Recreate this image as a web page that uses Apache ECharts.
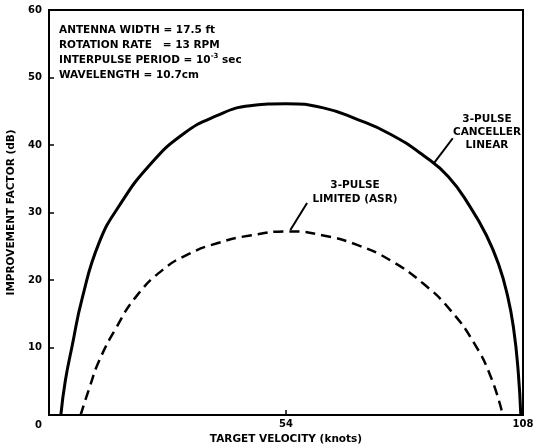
<!DOCTYPE html>
<html><head><meta charset="utf-8">
<script src="https://cdn.jsdelivr.net/npm/echarts@6/dist/echarts.min.js"></script>
<style>html,body{margin:0;padding:0;background:#fff}#c{width:534px;height:444px}</style>
</head><body><div id="c"></div>
<script>
const xTicks = [0, 54, 108];
const yTicks = [0, 10, 20, 30, 40, 50, 60];
const linearX = [2.7, 3.7, 5.2, 7.6, 11.4, 16.0, 22.9, 30.5, 38.1, 45.8, 54.0, 62.5, 70.2, 77.8, 85.4, 91.0, 96.0, 99.6, 102.4, 104.5, 105.9, 106.9, 107.5];
const linearY = [0, 5.0, 10.0, 17.4, 25.5, 31.0, 37.0, 41.6, 44.3, 45.8, 46.1, 45.5, 43.8, 41.6, 38.4, 35.3, 30.8, 26.7, 22.4, 17.6, 12.6, 6.5, 0];
const limitedX = [7.2, 9.2, 11.4, 15.3, 19.8, 25.9, 32.0, 38.1, 45.8, 54.9, 62.5, 70.2, 77.8, 85.4, 91.5, 96.9, 100.7, 103.4];
const limitedY = [0, 4.0, 8.0, 12.9, 17.5, 21.5, 23.9, 25.4, 26.6, 27.2, 26.6, 25.2, 22.9, 19.4, 15.5, 10.6, 5.6, 0];
const paramLines = ['ANTENNA WIDTH = 17.5 ft', 'ROTATION RATE   = 13 RPM', 'INTERPULSE PERIOD = 10{sup|-3} sec', 'WAVELENGTH = 10.7cm'];
const linearLabel = '3-PULSE\nCANCELLER\nLINEAR';
const limitedLabel = '3-PULSE\nLIMITED (ASR)';

const F = '"DejaVu Sans", sans-serif';
const zip = (a, b) => a.map((v, i) => [v, b[i]]);
const chart = echarts.init(document.getElementById('c'));
chart.setOption({
  backgroundColor: '#fff',
  animation: false,
  grid: { left: 49, right: 11, top: 10, bottom: 29, show: true, borderColor: '#000', borderWidth: 2,
    containLabel: false, outerBoundsMode: 'none' },
  xAxis: {
    type: 'value', min: xTicks[0], max: xTicks[2], interval: xTicks[1] - xTicks[0],
    name: 'TARGET VELOCITY (knots)', nameLocation: 'middle', nameGap: 12,
    nameTextStyle: { fontFamily: F, fontWeight: 'bold', fontSize: 10.5, color: '#000' },
    axisLine: { lineStyle: { color: '#000', width: 2 } },
    axisTick: { inside: true, length: 5, lineStyle: { color: '#000', width: 1.5 } },
    axisLabel: { showMinLabel: false, margin: 4, fontFamily: F, fontWeight: 'bold', fontSize: 10, color: '#000' },
    splitLine: { show: false }
  },
  yAxis: {
    type: 'value', min: yTicks[0], max: yTicks[yTicks.length - 1], interval: 10,
    name: 'IMPROVEMENT FACTOR (dB)', nameLocation: 'middle', nameGap: 25, nameRotate: 90,
    nameTextStyle: { fontFamily: F, fontWeight: 'bold', fontSize: 10.5, color: '#000' },
    axisLine: { show: true, lineStyle: { color: '#000', width: 2 } },
    axisTick: { show: true, inside: true, length: 5, lineStyle: { color: '#000', width: 1.5 } },
    axisLabel: { margin: 7, fontFamily: F, fontWeight: 'bold', fontSize: 10, color: '#000',
      formatter: v => v === 0 ? '{z|0}' : String(v),
      rich: { z: { padding: [20, 0, 0, 0], fontFamily: F, fontWeight: 'bold', fontSize: 10, color: '#000' } } },
    splitLine: { show: false }
  },
  series: [
    { type: 'line', data: zip(linearX, linearY), smooth: 0.5, symbol: 'none',
      lineStyle: { color: '#000', width: 3 },
      markLine: { silent: true, symbol: ['none', 'none'], label: { show: false },
        lineStyle: { color: '#000', width: 2, type: 'solid' },
        data: [[{ coord: [92.0, 41.0] }, { coord: [87.8, 37.4] }]] } },
    { type: 'line', data: zip(limitedX, limitedY), smooth: 0.5, symbol: 'none',
      lineStyle: { color: '#000', width: 2.5, type: [10, 6] },
      markLine: { silent: true, symbol: ['none', 'none'], label: { show: false },
        lineStyle: { color: '#000', width: 2, type: 'solid' },
        data: [[{ coord: [58.8, 31.4] }, { coord: [55.0, 27.4] }]] } }
  ],
  graphic: [
    { type: 'text', x: 59, y: 23, style: {
      text: paramLines.join('\n'), fontFamily: F, fontWeight: 'bold', fontSize: 10.5, lineHeight: 15, fill: '#000',
      rich: { sup: { fontSize: 7, verticalAlign: 'top', padding: [0, 0, 6, 0], fontFamily: F, fontWeight: 'bold' } } } },
    { type: 'text', x: 487, y: 113, style: {
      text: linearLabel, fontFamily: F, fontWeight: 'bold', fontSize: 10.5, lineHeight: 13, fill: '#000', align: 'center' } },
    { type: 'text', x: 355, y: 178, style: {
      text: limitedLabel, fontFamily: F, fontWeight: 'bold', fontSize: 10.5, lineHeight: 14, fill: '#000', align: 'center' } }
  ]
});
</script></body></html>
